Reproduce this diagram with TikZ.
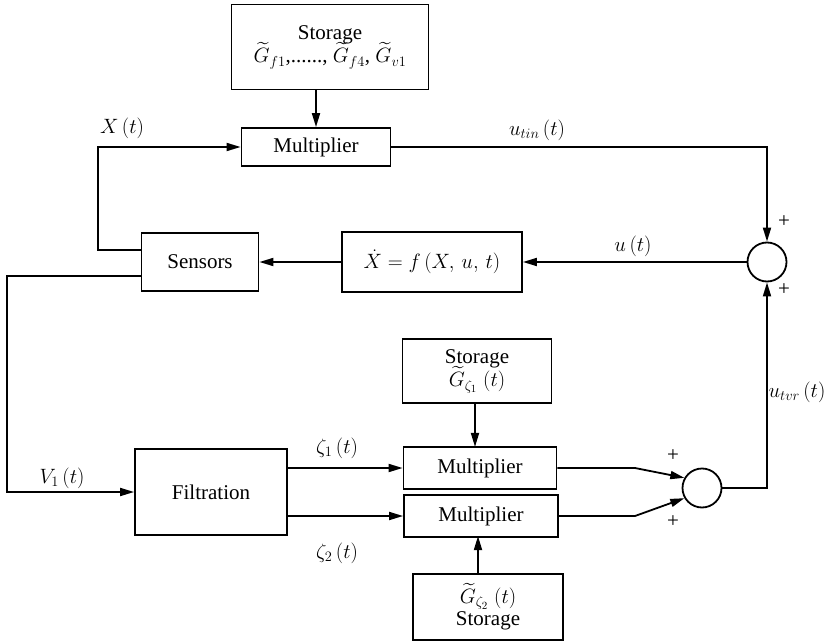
\documentclass[tikz,border=0pt]{standalone}
\usepackage{fontspec}
\setmainfont{Liberation Serif}
\usepackage{amsmath,amssymb}
\usetikzlibrary{shapes,arrows.meta,positioning,calc}

\tikzset{
  block/.style={draw, line width=1.8pt, rectangle, align=center, inner sep=2pt},
  adder/.style={draw, line width=1.8pt, circle, minimum size=39pt, inner sep=0pt},
  sig/.style={line width=1.8pt},
  arr/.style={sig, -{Triangle[length=14pt,width=8pt]}},
  lbl/.style={inner sep=1pt}
}

\begin{document}
\begin{tikzpicture}[x=1pt, y=-1pt, font=\fontsize{21}{24}\selectfont]
  \useasboundingbox (0,0) rectangle (828,642);

  % Blocks of the upper loop
  \node[block, minimum width=197pt, minimum height=85pt] (store1) at (330,47)
    {Storage\\[-2pt] $\widetilde{G}_{f1}$,......, $\widetilde{G}_{f4}$, $\widetilde{G}_{v1}$};
  \node[block, minimum width=149pt, minimum height=38pt] (mult1) at (316,147) {Multiplier};
  \node[adder] (sum1) at (767,262) {};
  \node[block, minimum width=180pt, minimum height=60pt] (plant) at (432,262) {$\dot X = f\,(X,\,u,\,t)$};
  \node[block, minimum width=117pt, minimum height=58pt] (sens) at (200,262) {Sensors};

  % Blocks of the lower branch
  \node[block, minimum width=152pt, minimum height=86pt] (filt) at (211,492) {Filtration};
  \node[block, minimum width=149pt, minimum height=64pt] (store2) at (477,371)
    {Storage\\[-2pt] $\widetilde{G}_{\zeta_1}\;(t)$};
  \node[block, minimum width=153pt, minimum height=42pt] (mult2) at (480,468) {Multiplier};
  \node[block, minimum width=154pt, minimum height=42pt] (mult3) at (481,516) {Multiplier};
  \node[block, minimum width=150pt, minimum height=66pt] (store3) at (488,607)
    {$\widetilde{G}_{\zeta_2}\;(t)$\\[-2pt] Storage};
  \node[adder] (sum2) at (702,488) {};

  % Bend points
  \coordinate (xl) at (98,147);
  \coordinate (vl) at (7,492);
  \coordinate (k2) at (635,468);
  \coordinate (k3) at (635,516);

  % Connectors of the upper loop
  \draw[arr] (mult1.north |- store1.south) -- (mult1.north);
  \draw[arr] (mult1.east) -| (sum1.north);
  \draw[arr] (sum1.west) -- (plant.east);
  \draw[arr] (plant.west) -- (sens.east);
  \draw[arr] ([yshift=12pt]sens.west) -| (xl) -- (mult1.west);
  \draw[arr] ([yshift=-14pt]sens.west) -| (vl) -- (filt.west);

  % Connectors of the lower branch
  \draw[arr] (filt.east |- mult2.west) -- (mult2.west);
  \draw[arr] (filt.east |- mult3.west) -- (mult3.west);
  \draw[arr] (store2.south -| mult2.north) ++(-5,0) -- ++(0,43);
  \draw[arr] (mult3.south |- store3.north) ++(-3,0) -- ++(0,-37);
  \draw[arr] (mult2.east) -- (k2) -- (sum2.150);
  \draw[arr] (mult3.east) -- (k3) -- (sum2.210);
  \draw[arr] (sum2.east) -| (sum1.south);

  % Signal labels
  \node[lbl] (lx) at (122,128) {$X\,(t)$};
  \node[lbl] (ltin) at (537,130) {$u_{tin}\,(t)$};
  \node[lbl] (lu) at (633,246) {$u\,(t)$};
  \node[lbl] (lv) at (62,478) {$V_1\,(t)$};
  \node[lbl] (lz1) at (337,448) {$\zeta_1\,(t)$};
  \node[lbl] (lz2) at (337,553) {$\zeta_2\,(t)$};
  \node[lbl] (ltvr) at (797,392) {$u_{tvr}\,(t)$};

  % Signs at the adders
  \node[lbl] (p1) at (784,222) {+};
  \node[lbl] (p2) at (784,290) {+};
  \node[lbl] (p3) at (673,456) {+};
  \node[lbl] (p4) at (673,522) {+};
\end{tikzpicture}
\end{document}
